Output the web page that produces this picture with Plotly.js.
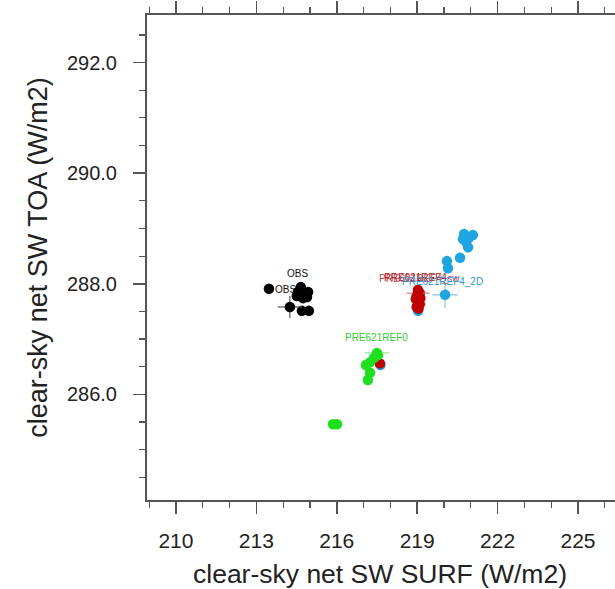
<!DOCTYPE html>
<html><head><meta charset="utf-8">
<script src="https://cdn.plot.ly/plotly-3.0.1.min.js"></script>
<style>html,body{margin:0;padding:0;overflow:hidden;background:#fff}#c{width:645px;height:589px}</style>
</head><body><div id="c"></div>
<script>
// OBS
var obsX = [213.47, 214.70, 214.96, 214.63, 214.78, 214.93, 214.51, 214.74, 214.89, 214.55, 214.66];
var obsY = [287.91, 287.51, 287.51, 287.89, 287.83, 287.85, 287.78, 287.74, 287.76, 287.85, 287.94];
var obsMeanX = [214.25], obsMeanY = [287.58], obsErrX = [0.45], obsErrY = [0.20];
// PRE621REF0 (green)
var ref0X = [215.86, 216.01, 217.16, 217.24, 217.09, 217.24, 217.39, 217.54];
var ref0Y = [285.46, 285.46, 286.26, 286.39, 286.53, 286.58, 286.66, 286.71];
var ref0MeanX = [217.50], ref0MeanY = [286.75], ref0ErrX = [0.46], ref0ErrY = [0.07];
// PRE621REF4_sw (red)
var swX = [219.03, 219.10, 218.98, 219.12, 219.03, 219.10, 218.98, 219.05, 218.95, 217.61];
var swY = [287.89, 287.83, 287.78, 287.74, 287.69, 287.63, 287.58, 287.55, 287.72, 286.56];
var swMeanX = [219.03], swMeanY = [287.83], swErrX = [0.43], swErrY = [0.05];
// PRE621REF4_2D (blue)
var d2X = [220.11, 220.15, 220.60, 220.75, 221.08, 220.93, 220.82, 220.90, 220.71, 219.03, 217.63];
var d2Y = [288.41, 288.28, 288.47, 288.90, 288.88, 288.83, 288.76, 288.66, 288.81, 287.51, 286.53];
var d2MeanX = [220.04], d2MeanY = [287.80], d2ErrX = [0.47], d2ErrY = [0.24];

var xTitle = 'clear-sky net SW SURF (W/m2)';
var yTitle = 'clear-sky net SW TOA (W/m2)';

var cBlack = '#000000', cGreen = '#1ee01e', cRed = '#c00000', cBlue = '#1fa6e0';
var FONT = 'Liberation Sans, Arial, Helvetica, sans-serif';

function pts(x, y, c, name) {
  return {x: x, y: y, type: 'scatter', mode: 'markers', name: name, showlegend: false,
    marker: {color: c, size: 10.5, line: {width: 0}}};
}
function mean(x, y, ex, ey, c, ec, name) {
  return {x: x, y: y, type: 'scatter', mode: 'markers', name: name, showlegend: false,
    marker: {color: c, size: 10.5, line: {width: 0}},
    error_x: {type: 'data', array: ex, visible: true, color: ec, thickness: 1.2, width: 0},
    error_y: {type: 'data', array: ey, visible: true, color: ec, thickness: 1.2, width: 0}};
}

var data = [
  pts(d2X, d2Y, cBlue, 'PRE621REF4_2D'),
  pts(swX, swY, cRed, 'PRE621REF4_sw'),
  mean(swMeanX, swMeanY, swErrX, swErrY, cRed, '#d08080', 'PRE621REF4_sw mean'),
  mean(d2MeanX, d2MeanY, d2ErrX, d2ErrY, cBlue, '#7cc4e8', 'PRE621REF4_2D mean'),
  pts(ref0X, ref0Y, cGreen, 'PRE621REF0'),
  mean(ref0MeanX, ref0MeanY, ref0ErrX, ref0ErrY, cGreen, '#90e890', 'PRE621REF0 mean'),
  pts(obsX, obsY, cBlack, 'OBS'),
  mean(obsMeanX, obsMeanY, obsErrX, obsErrY, cBlack, '#555555', 'OBS mean')
];

function lab(t, x, y, c) {
  return {text: t, x: x, y: y, xref: 'x', yref: 'y', showarrow: false,
    font: {family: FONT, size: 10, color: c}};
}

var axisCommon = {
  showgrid: false, zeroline: false, showline: true, linecolor: '#555', linewidth: 2,
  mirror: 'ticks', ticks: 'outside', ticklen: 12, tickwidth: 1.5, tickcolor: '#555',
  tickfont: {family: FONT, size: 20, color: '#222'}
};

var layout = {
  width: 645, height: 589,
  margin: {l: 147, r: 0, t: 15, b: 89},
  paper_bgcolor: '#fff', plot_bgcolor: '#fff',
  xaxis: Object.assign({}, axisCommon, {
    range: [208.92, 227.5], tickmode: 'linear', tick0: 210, dtick: 3,
    ticklabelstandoff: 9, tickfont: {family: FONT, size: 21, color: '#222'},
    minor: {dtick: 1, tick0: 210, ticks: 'outside', ticklen: 6, tickwidth: 1.2, tickcolor: '#555'}
  }),
  yaxis: Object.assign({}, axisCommon, {
    range: [284.09, 292.86], tickmode: 'linear', tick0: 286, dtick: 2, tickformat: '.1f',
    ticklabelstandoff: 12,
    minor: {dtick: 0.5, tick0: 286, ticks: 'outside', ticklen: 6, tickwidth: 1.2, tickcolor: '#555'},
    title: {text: yTitle, standoff: 11, font: {family: FONT, size: 27, color: '#222'}}
  }),
  annotations: [
    {text: xTitle, xref: 'paper', yref: 'paper', x: (380 - 147) / 498, y: -74 / 485,
     xanchor: 'center', yanchor: 'middle', showarrow: false,
     font: {family: FONT, size: 26.5, color: '#222'}},
    lab('OBS', 214.53, 288.19, '#111'),
    lab('OBS', 214.08, 287.89, '#111'),
    lab('PRE621REF0', 217.50, 287.03, '#33cc33'),
    lab('PRE621REF4', 218.93, 288.11, '#a01010'),
    lab('PRE621REF4_sw', 219.10, 288.10, '#c04050'),
    lab('PRE621REF4_2D', 219.95, 288.04, '#3399cc')
  ]
};

Plotly.newPlot('c', data, layout, {displayModeBar: false, staticPlot: true});
</script>
</body></html>
